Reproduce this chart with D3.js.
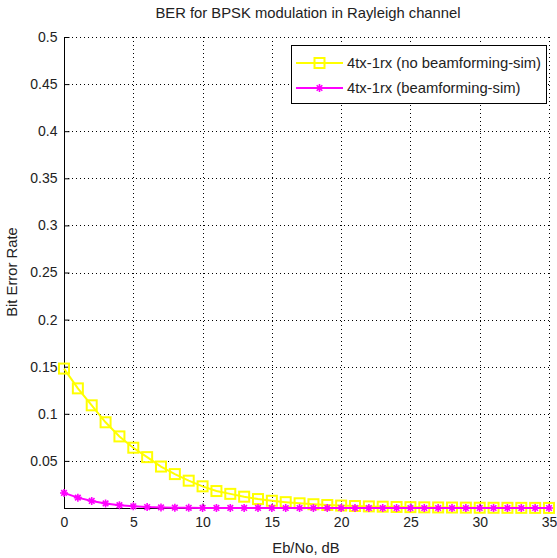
<!DOCTYPE html>
<html><head><meta charset="utf-8">
<script src="https://cdn.jsdelivr.net/npm/d3@7"></script>
<style>
html,body{margin:0;padding:0;background:#fff;}
text{font-family:"Liberation Sans",Arial,sans-serif;fill:#222;}
</style></head>
<body><svg id="c" width="557" height="558"></svg>
<script>
const title = "BER for BPSK modulation in Rayleigh channel";
const xLabel = "Eb/No, dB";
const yLabel = "Bit Error Rate";
const ebno = d3.range(0, 36);
const seriesNames = ["4tx-1rx (no beamforming-sim)", "4tx-1rx (beamforming-sim)"];
const noBeamforming = [0.148,0.127,0.109,0.091,0.076,0.064,0.054,0.044,0.036,0.029,
  0.023,0.018,0.015,0.012,0.0095,0.0077,0.0062,0.005,0.004,0.0032,
  0.0026,0.0021,0.0017,0.0014,0.0011,0.0009,0.0007,0.0006,0.0005,0.0004,
  0.0003,0.00025,0.0002,0.00016,0.00013,0.0001];
const beamforming = [0.016,0.011,0.0075,0.0048,0.003,0.0018,0.001,0.0006,0.0003,0.0002,
  0.0001,0.00005,0.00003,0.00002,0.00001,0,0,0,0,0,
  0,0,0,0,0,0,0,0,0,0,
  0,0,0,0,0,0];
const xTicks = [0,5,10,15,20,25,30,35];
const yTicks = [0.05,0.1,0.15,0.2,0.25,0.3,0.35,0.4,0.45,0.5];
const yTickLabels = ["0.05","0.1","0.15","0.2","0.25","0.3","0.35","0.4","0.45","0.5"];
const colors = ["#ffff00", "#ff00ff"];

const svg = d3.select("#c");
const L = 64, R = 549, T = 37, B = 508;
const x = d3.scaleLinear().domain([0,35]).range([L,R]);
const y = d3.scaleLinear().domain([0,0.5]).range([B,T]);

// grid
const grid = svg.append("g").attr("stroke","#000").attr("stroke-width",1).attr("stroke-dasharray","1,3");
grid.selectAll(".vx").data(xTicks.filter(d=>d>0)).join("line")
  .attr("x1",d=>Math.round(x(d))+0.5).attr("x2",d=>Math.round(x(d))+0.5).attr("y1",T).attr("y2",B);
grid.selectAll(".hy").data(yTicks).join("line")
  .attr("y1",d=>Math.round(y(d))+0.5).attr("y2",d=>Math.round(y(d))+0.5).attr("x1",L).attr("x2",R);

// axes
const xAxis = d3.axisBottom(x).tickValues(xTicks).tickSizeInner(-5).tickSizeOuter(0).tickPadding(9);
const yAxis = d3.axisLeft(y).tickValues(yTicks).tickFormat((d,i)=>yTickLabels[i]).tickSizeInner(-5).tickSizeOuter(0).tickPadding(7);
const gx = svg.append("g").attr("transform",`translate(0,${B+0.5})`).call(xAxis);
const gy = svg.append("g").attr("transform",`translate(${L+0.5},0)`).call(yAxis);
[gx,gy].forEach(g=>{
  g.select(".domain").attr("stroke","#000").attr("stroke-width",1);
  g.selectAll(".tick line").attr("stroke","#000");
  g.selectAll("text").attr("font-size",14).attr("font-family","Liberation Sans, Arial, sans-serif").attr("fill","#222");
});
gy.select(".domain").attr("d",`M0,${B}V${T}`);
gx.select(".domain").attr("d",`M${L},0H${R}`);

const line = d3.line().x((d,i)=>x(ebno[i])).y(d=>y(d));
const plot = svg.append("g");

// yellow series
plot.append("path").datum(noBeamforming).attr("d",line).attr("fill","none")
  .attr("stroke",colors[0]).attr("stroke-width",2);
plot.selectAll(".sq").data(noBeamforming).join("rect")
  .attr("x",(d,i)=>x(ebno[i])-5).attr("y",d=>y(d)-5).attr("width",10).attr("height",10)
  .attr("fill","none").attr("stroke",colors[0]).attr("stroke-width",2);

// magenta series
plot.append("path").datum(beamforming).attr("d",line).attr("fill","none")
  .attr("stroke",colors[1]).attr("stroke-width",2);
const star = (g, cx, cy, s, c) => {
  g.append("path").attr("d",`M${cx-s},${cy}H${cx+s}M${cx},${cy-s}V${cy+s}M${cx-s*0.7},${cy-s*0.7}L${cx+s*0.7},${cy+s*0.7}M${cx-s*0.7},${cy+s*0.7}L${cx+s*0.7},${cy-s*0.7}`)
   .attr("stroke",c).attr("stroke-width",1.6).attr("fill","none");
};
beamforming.forEach((d,i)=>star(plot, x(ebno[i]), y(d), 4, colors[1]));

// legend
const lg = svg.append("g");
lg.append("rect").attr("x",291.5).attr("y",45.5).attr("width",255).attr("height",58)
  .attr("fill","#fff").attr("stroke","#000").attr("stroke-width",1);
const rows = [63, 88];
rows.forEach((ry,i)=>{
  lg.append("line").attr("x1",296).attr("x2",343).attr("y1",ry).attr("y2",ry).attr("stroke",colors[i]).attr("stroke-width",2);
  if(i===0) lg.append("rect").attr("x",314.5).attr("y",ry-5).attr("width",10).attr("height",10).attr("fill","none").attr("stroke",colors[0]).attr("stroke-width",2);
  else star(lg, 319.5, ry, 4, colors[1]);
  lg.append("text").attr("x",347).attr("y",ry+5).attr("font-size",14.8).text(seriesNames[i]);
});

// labels
svg.append("text").attr("x",308).attr("y",18).attr("text-anchor","middle").attr("font-size",14.8).text(title);
svg.append("text").attr("x",306).attr("y",553).attr("text-anchor","middle").attr("font-size",14.8).text(xLabel);
svg.append("text").attr("transform","translate(17,272) rotate(-90)").attr("text-anchor","middle").attr("font-size",14.8).text(yLabel);
</script></body></html>
